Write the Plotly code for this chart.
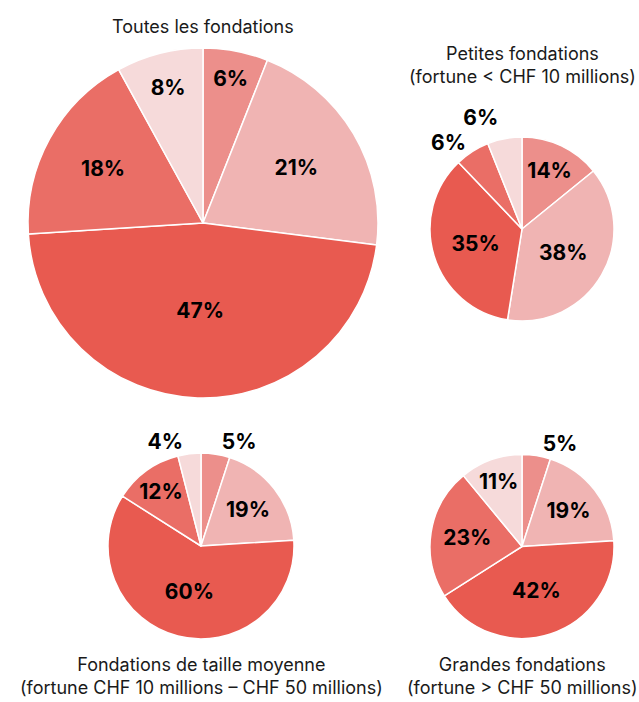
import plotly.graph_objects as go

categories = ["A", "B", "C", "D", "E"]
colors = ["#EC8F8B", "#F0B4B3", "#E85A50", "#EA6E66", "#F6DADA"]

toutes = [6, 21, 47, 18, 8]
petites = [14, 38, 35, 6, 6]
moyennes = [5, 19, 60, 12, 4]
grandes = [5, 19, 42, 23, 11]

pos_toutes = ["inside"] * 5
pos_petites = ["inside", "inside", "inside", "outside", "outside"]
pos_moyennes = ["outside", "inside", "inside", "inside", "outside"]
pos_grandes = ["outside", "inside", "inside", "inside", "inside"]

titles = [
    "Toutes les fondations",
    "Petites fondations<br>(fortune < CHF 10 millions)",
    "Fondations de taille moyenne<br>(fortune CHF 10 millions – CHF 50 millions)",
    "Grandes fondations<br>(fortune > CHF 50 millions)",
]

W, H = 639, 702
FONT = "Inter, Roboto, sans-serif"

def px_domain(x0, x1, y0, y1):
    return dict(x=[x0 / W, x1 / W], y=[1 - y1 / H, 1 - y0 / H])

specs = [
    (toutes, pos_toutes, px_domain(28, 378, 48, 398)),
    (petites, pos_petites, px_domain(430, 614, 137, 321)),
    (moyennes, pos_moyennes, px_domain(108, 294, 453, 639)),
    (grandes, pos_grandes, px_domain(430, 614, 453, 640)),
]

fig = go.Figure()
for vals, pos, dom in specs:
    fig.add_trace(go.Pie(
        labels=categories,
        values=vals,
        text=[f"{v}%" for v in vals],
        texttemplate="%{text}",
        textposition=pos,
        insidetextorientation="horizontal",
        sort=False,
        direction="clockwise",
        rotation=0,
        marker=dict(colors=colors, line=dict(color="white", width=1.5)),
        textfont=dict(family=FONT, size=21, color="black", weight="bold"),
        domain=dom,
        showlegend=False,
        hoverinfo="skip",
    ))

ann = [
    (203, 27, titles[0]),
    (522, 65, titles[1]),
    (201, 676, titles[2]),
    (522, 676, titles[3]),
]
for x, y, t in ann:
    fig.add_annotation(x=x / W, y=1 - y / H, xref="paper", yref="paper",
                       text=t, showarrow=False, xanchor="center", yanchor="middle",
                       font=dict(family=FONT, size=18, color="#1a1a1a"))

fig.update_layout(
    width=W, height=H,
    margin=dict(l=0, r=0, t=0, b=0),
    paper_bgcolor="white", plot_bgcolor="white",
    uniformtext=dict(minsize=21, mode="show"),
)

post = (
    "document.body.style.margin='0';"
    "document.querySelectorAll('path.textline').forEach(function(p){p.style.display='none';});"
)
fig.write_html("out.html", post_script=post, config={"displayModeBar": False})
